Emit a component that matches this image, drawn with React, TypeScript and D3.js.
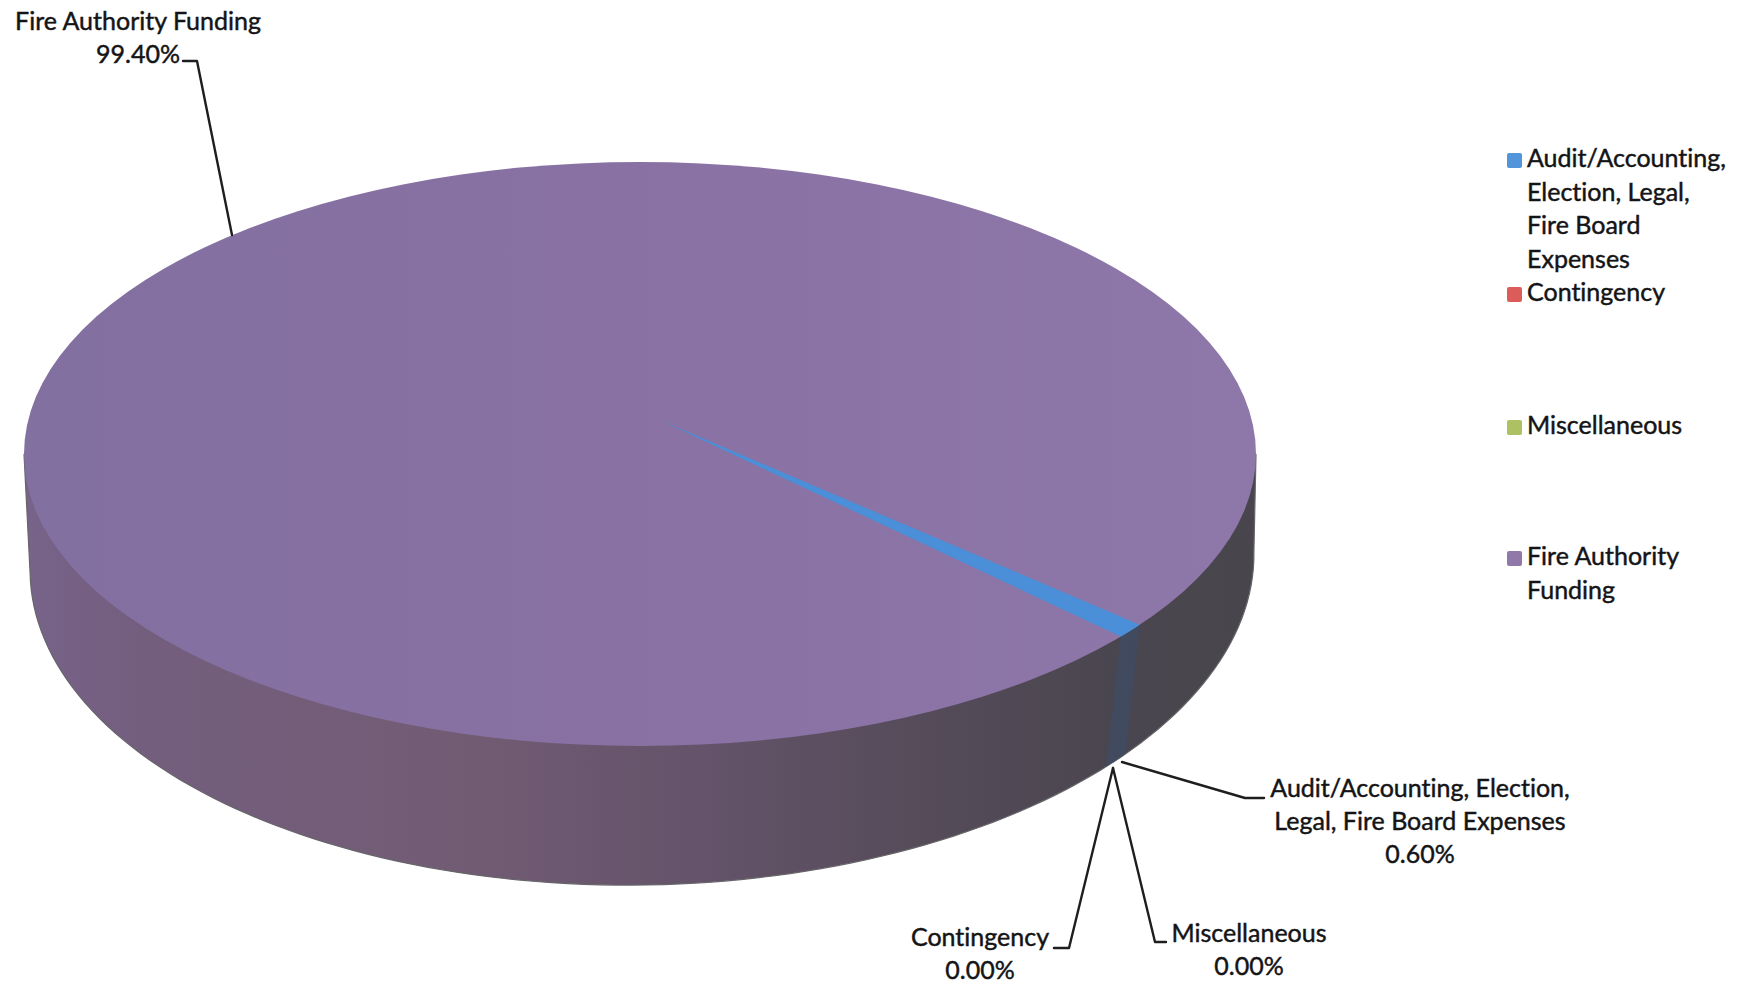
import React, { useEffect, useRef } from 'react';
import * as d3 from 'd3';

const categories = ['Audit/Accounting, Election, Legal, Fire Board Expenses', 'Contingency', 'Miscellaneous', 'Fire Authority Funding'];
const shares = [0.6, 0, 0, 99.4];
const colors = ['#4a8fd8', '#d9534f', '#a9bd5a', '#8a72a4'];
const legendLines = [['Audit/Accounting,', 'Election, Legal,', 'Fire Board', 'Expenses'], ['Contingency'], ['Miscellaneous'], ['Fire Authority', 'Funding']];
const pctFormat = d3.format('.2%');

const width = 1750;
const height = 985;
const top = { cx: 640, cy: 454, rx: 616, ry: 292, rot: 0 };
const bottom = { cx: 642, cy: 562, rx: 612, ry: 323, rot: (-1 * Math.PI) / 180 };
const apex: [number, number] = [660, 420];

// Where the 0.6% slice sits on the rim, and how much the view's perspective opens it up
const sliceMid = (37.25 * Math.PI) / 180;
const perspectiveStretch = 1.35;
const bottomShift = (2.5 * Math.PI) / 180;

const rim = (e: typeof top, t: number): [number, number] => {
  const x = e.rx * Math.cos(t);
  const y = e.ry * Math.sin(t);
  return [e.cx + x * Math.cos(e.rot) - y * Math.sin(e.rot), e.cy + x * Math.sin(e.rot) + y * Math.cos(e.rot)];
};

const sample = (t0: number, t1: number, n = 120) => d3.range(n + 1).map((i) => t0 + ((t1 - t0) * i) / n);

// data labels: anchor, lines, baseline of first line
const labels = [
  { i: 0, x: 1420, y: 797, lines: ['Audit/Accounting, Election,', 'Legal, Fire Board Expenses'], leader: [[1122, 762], [1245, 798], [1264, 798]] },
  { i: 1, x: 980, y: 946, lines: ['Contingency'], leader: [[1113, 768], [1069, 948], [1054, 948]] },
  { i: 2, x: 1249, y: 942, lines: ['Miscellaneous'], leader: [[1113, 768], [1155, 942], [1166, 942]] },
  { i: 3, x: 138, y: 30, lines: ['Fire Authority Funding'], leader: [[232, 235], [197, 61], [183, 61]] },
];

const legendX = 1507;
const legendBaselines = [167, 301, 434, 565];

export default function App() {
  const svgRef = useRef<SVGSVGElement>(null);

  useEffect(() => {
    if (!svgRef.current) return;
    const svg = d3.select(svgRef.current);
    svg.selectAll('*').remove();

    const font = 'Lato, "Open Sans", sans-serif';
    const fontSize = 25;
    const textColor = '#141416';

    const defs = svg.append('defs');
    const sideGrad = defs.append('linearGradient').attr('id', 'side').attr('gradientUnits', 'userSpaceOnUse')
      .attr('x1', 23).attr('x2', 1255).attr('y1', 0).attr('y2', 0);
    [[0, '#78638a'], [0.1, '#735e7e'], [0.35, '#725c74'], [0.55, '#64536a'], [0.72, '#564c5a'], [0.88, '#4a4650'], [1, '#48464c']]
      .forEach(([o, c]) => sideGrad.append('stop').attr('offset', o as number).attr('stop-color', c as string));
    const topGrad = defs.append('linearGradient').attr('id', 'topFace').attr('gradientUnits', 'userSpaceOnUse')
      .attr('x1', 23).attr('x2', 1255).attr('y1', 0).attr('y2', 0);
    [[0, '#8270a0'], [0.5, '#8971a3'], [1, '#8e77a9']]
      .forEach(([o, c]) => topGrad.append('stop').attr('offset', o as number).attr('stop-color', c as string));

    const line = d3.line();

    // Pie angles start at 12 o'clock, the rim parameter at 3 o'clock
    const toRim = d3.scaleLinear().domain([0, 2 * Math.PI]).range([-Math.PI / 2, 1.5 * Math.PI]);
    const sliceWidth = (shares[0] / d3.sum(shares)) * 2 * Math.PI;
    const pie = d3.pie<number>().sort(null).startAngle(sliceMid + Math.PI / 2 - sliceWidth / 2).endAngle(sliceMid + Math.PI / 2 - sliceWidth / 2 + 2 * Math.PI);
    const arcs = pie(shares);
    const audit = arcs[0];
    const a0 = sliceMid + (toRim(audit.startAngle) - sliceMid) * perspectiveStretch;
    const a1 = sliceMid + (toRim(audit.endAngle) - sliceMid) * perspectiveStretch;

    // Side wall: from the top face's widest points down round the bottom rim
    const wall = [rim(top, 0), ...sample(0, Math.PI).map((t) => rim(bottom, t)), rim(top, Math.PI)] as [number, number][];
    svg.append('path').attr('d', line(wall)).attr('fill', 'url(#side)').attr('stroke', '#67656a').attr('stroke-width', 1.2);

    // The slice's band on the wall
    const band = [...sample(a0, a1, 12).map((t) => rim(top, t)), ...sample(a1 + bottomShift, a0 + bottomShift, 12).map((t) => rim(bottom, t))] as [number, number][];
    svg.append('path').attr('d', line(band)).attr('fill', '#3e4b61').attr('opacity', 0.8);

    // Top face
    svg.append('ellipse').attr('cx', top.cx).attr('cy', top.cy).attr('rx', top.rx).attr('ry', top.ry)
      .attr('fill', 'url(#topFace)');

    // Slice on the top face
    const wedge = [apex, ...sample(a0, a1, 12).map((t) => rim(top, t))] as [number, number][];
    svg.append('path').attr('d', line(wedge)).attr('fill', colors[0]);

    // Leader lines
    svg.append('g').selectAll('path').data(labels).join('path')
      .attr('d', (d) => line(d.leader as [number, number][]))
      .attr('fill', 'none').attr('stroke', '#1e1e1e').attr('stroke-width', 2.4).attr('stroke-linejoin', 'round').attr('stroke-linecap', 'round');

    const textStyle = (g: d3.Selection<SVGGElement, unknown, null, undefined>) =>
      g.attr('font-family', font).attr('font-size', fontSize).attr('fill', textColor)
        .attr('stroke', textColor).attr('stroke-width', 0.45).style('font-variant-ligatures', 'none');

    // Data labels
    const labelG = svg.append('g').call(textStyle).attr('text-anchor', 'middle');
    labels.forEach((l) => {
      [...l.lines, pctFormat(shares[l.i] / 100)].forEach((s, j) => {
        labelG.append('text').attr('x', l.x).attr('y', l.y + j * 32.8).text(s);
      });
    });

    // Legend
    const legendG = svg.append('g').call(textStyle);
    categories.forEach((c, i) => {
      const y0 = legendBaselines[i];
      legendG.append('rect').attr('x', legendX).attr('y', y0 - 14).attr('width', 15).attr('height', 15).attr('rx', 2)
        .attr('stroke', 'none').attr('fill', colors[i]).attr('opacity', 0.95);
      legendLines[i].forEach((s, j) => {
        legendG.append('text').attr('x', legendX + 20).attr('y', y0 + j * 33.6).text(s);
      });
    });
  }, []);

  return (
    <svg
      ref={svgRef}
      width={width}
      height={height}
      viewBox={`0 0 ${width} ${height}`}
      style={{ position: 'absolute', left: 0, top: 0, background: '#fff', display: 'block' }}
    />
  );
}
